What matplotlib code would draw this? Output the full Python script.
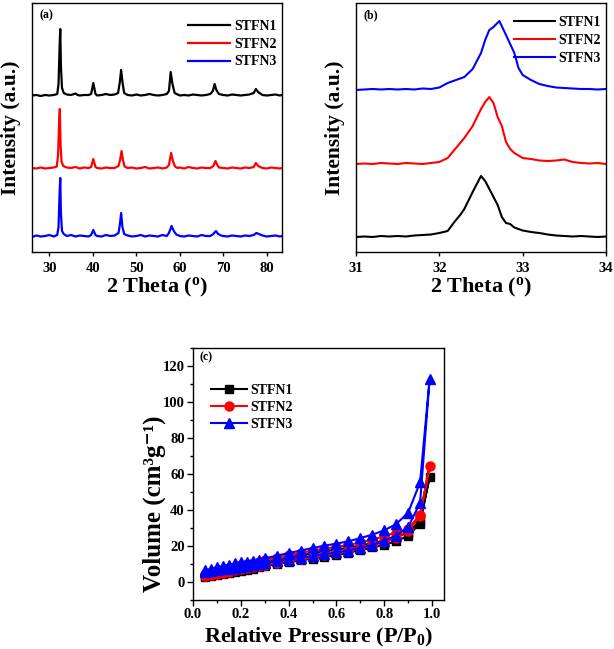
import matplotlib
matplotlib.use("Agg")
import matplotlib.pyplot as plt
from matplotlib.ticker import MultipleLocator

plt.rcParams['font.family'] = ['Liberation Serif', 'DejaVu Serif']
plt.rcParams['font.weight'] = 'bold'
plt.rcParams['mathtext.fontset'] = 'custom'
plt.rcParams['mathtext.rm'] = 'Liberation Serif:bold'
plt.rcParams['mathtext.bf'] = 'Liberation Serif:bold'
plt.rcParams['mathtext.it'] = 'Liberation Serif:bold'

labels = ['STFN1', 'STFN2', 'STFN3']
colors = ['black', 'red', 'blue']

# ---------------- (a) wide-range XRD (intensity above own baseline, a.u.) ----
xrd1_x = [26, 27, 28, 29, 30, 31, 31.8, 32.1, 32.35, 32.5, 32.65, 32.9, 33.3, 34, 35, 36, 36.5, 37, 38, 39,
          39.6, 40.1, 40.6, 41, 42, 43, 44, 45, 45.8, 46.2, 46.5, 46.8, 47.2, 48, 49, 50, 51, 52, 53, 54, 55,
          56, 57, 57.5, 57.9, 58.3, 58.8, 59.5, 60, 61, 62, 63, 64, 65, 66, 67, 67.6, 68.0, 68.4, 69, 70, 71,
          72, 73, 74, 75, 76, 77, 77.5, 78, 79, 80, 81, 82, 83, 83.5]
xrd1_y = [0.5, 1, 0, 1, 0.5, 1, 2, 12, 50, 67, 30, 8, 3, 1.5, 1, 2.5, 1, 0.5, 1, 1,
          2, 13, 2, 0.5, 1, 2, 1, 1.5, 3, 14, 26, 14, 3, 1, 0.5, 1.5, 0.5, 1, 2, 1, 0.5,
          1, 2, 5, 24, 12, 3, 1.5, 0.5, 1, 0.5, 1.5, 1, 0.5, 1, 2, 5, 12, 6, 2, 1, 0.5,
          1.5, 1, 0.5, 1, 1.5, 3, 7, 4, 1, 0.5, 1, 1.5, 0.5, 1]

xrd2_x = [26, 27, 28, 29, 30, 31, 31.7, 32.0, 32.25, 32.4, 32.55, 32.8, 33.2, 34, 35, 36, 37, 38, 39,
          39.6, 40.1, 40.6, 41, 42, 43, 44, 45, 45.9, 46.3, 46.6, 46.9, 47.3, 48, 49, 50, 51, 52, 53, 54, 55,
          56, 57, 57.5, 58.0, 58.4, 58.9, 59.5, 60, 61, 62, 63, 64, 65, 66, 67, 67.7, 68.2, 68.6, 69, 70, 71,
          72, 73, 74, 75, 76, 77, 77.5, 78, 79, 80, 81, 82, 83, 83.5]
xrd2_y = [1, 0.5, 1.5, 0.5, 1, 1.5, 2.5, 14, 48, 60, 26, 7, 3, 1.5, 1, 2, 0.5, 1.5, 1,
          2, 10, 2, 1, 0.5, 1.5, 1, 1, 3, 10, 18, 9, 2.5, 1, 1.5, 0.5, 1, 2, 0.5, 1, 1.5,
          0.5, 1.5, 4, 16, 8, 2.5, 1, 1.5, 0.5, 2, 1, 0.5, 1.5, 1, 1, 3, 8, 4, 1.5, 1, 0.5,
          1.5, 1, 0.5, 1.5, 1, 2, 6, 3, 1, 0.5, 1.5, 1, 0.5, 1]

xrd3_x = [26, 27, 28, 29, 30, 31, 31.8, 32.1, 32.35, 32.5, 32.65, 32.9, 33.3, 34, 35, 36, 37, 38, 39,
          39.6, 40.1, 40.6, 41, 42, 43, 44, 45, 45.9, 46.2, 46.5, 46.8, 47.2, 48, 49, 50, 51, 52, 53, 54, 55,
          56, 57, 57.5, 58.1, 58.6, 59.2, 60, 61, 62, 63, 64, 65, 66, 67, 67.7, 68.3, 68.8, 69.5, 70, 71,
          72, 73, 74, 75, 76, 77, 77.6, 78.2, 79, 80, 81, 82, 83, 83.5]
xrd3_y = [0, 1.5, 0.5, 1, 2, 0.5, 2, 10, 45, 59, 24, 6, 3, 1, 2, 0.5, 1.5, 1, 0.5,
          2, 7, 2, 1, 0.5, 2, 1, 1.5, 4, 12, 24, 10, 3, 1.5, 0.5, 1, 2, 0.5, 1.5, 1, 0.5,
          2, 1, 4, 11, 6, 2.5, 1, 0.5, 1.5, 1, 0.5, 2, 1, 1, 3, 6, 3, 1.5, 1, 0.5,
          1.5, 1, 0.5, 1.5, 1, 2, 4, 3, 1.5, 0.5, 1, 1.5, 0.5, 1]

# ---------------- (b) zoom on main peak --------------------------------------
zb1_x = [31.0, 31.1, 31.2, 31.3, 31.4, 31.5, 31.6, 31.7, 31.8, 31.9, 32.0, 32.1, 32.18, 32.25, 32.3, 32.4,
         32.5, 32.55, 32.6, 32.7, 32.75, 32.8, 32.85, 32.9, 33.0, 33.1, 33.2, 33.3, 33.4, 33.5, 33.6, 33.7,
         33.8, 33.9, 34.0]
zb1_y = [0, 0.5, 0, 1, 0.5, 1, 0.5, 1.5, 2, 2.5, 4, 6, 15, 22, 28, 45,
         61, 56, 48, 32, 20, 14, 13, 9.5, 6.5, 5, 4, 2.5, 1.5, 1, 0.5, 1,
         0.5, 0, 0.5]

zb2_x = [31.0, 31.1, 31.2, 31.3, 31.4, 31.5, 31.6, 31.7, 31.8, 31.9, 32.0, 32.1, 32.2, 32.3, 32.4, 32.5,
         32.55, 32.6, 32.65, 32.7, 32.75, 32.8, 32.85, 32.9, 33.0, 33.1, 33.2, 33.3, 33.4, 33.5, 33.6, 33.7,
         33.8, 33.9, 34.0]
zb2_y = [0, 0.5, 0, 1, 0.5, 0, 1, 0.5, 0, 1, 2, 6, 16, 26, 38, 55,
         62, 67, 61, 47, 38, 22, 15, 11, 6, 5, 3.5, 3, 3.5, 4.5, 2, 1,
         0.5, 1, 0]

zb3_x = [31.0, 31.1, 31.2, 31.3, 31.4, 31.5, 31.6, 31.7, 31.8, 31.9, 32.0, 32.1, 32.2, 32.3, 32.4, 32.5,
         32.55, 32.6, 32.65, 32.72, 32.8, 32.85, 32.9, 32.95, 33.0, 33.1, 33.2, 33.3, 33.4, 33.5, 33.6, 33.7,
         33.8, 33.9, 34.0]
zb3_y = [0, 0.5, 1, 0.5, 1, 0.5, 1, 0.5, 1.5, 1, 2.5, 7, 10, 13, 21, 37,
         50, 60, 63, 69, 55, 46, 37, 22, 15, 10, 6, 4, 2.5, 2, 1.5, 1,
         1, 0.5, 1]

# ---------------- (c) N2 isotherms -------------------------------------------
p_ads = [0.05, 0.075, 0.1, 0.125, 0.15, 0.175, 0.2, 0.225, 0.25, 0.275, 0.3, 0.35, 0.4, 0.45,
         0.5, 0.55, 0.6, 0.65, 0.7, 0.75, 0.8, 0.85, 0.9, 0.95, 0.99]
p_des = [0.95, 0.9, 0.85, 0.8, 0.75, 0.7, 0.65, 0.6, 0.55, 0.5, 0.45, 0.4, 0.35, 0.3,
         0.275, 0.25, 0.225, 0.2, 0.175, 0.15, 0.125, 0.1, 0.075, 0.05]

v1_ads = [2.8, 3.3, 3.9, 4.5, 5.1, 5.7, 6.3, 6.9, 7.5, 8.1, 8.7, 10.0, 11.0, 12.0,
          13.0, 14.0, 15.0, 16.3, 17.7, 19.2, 20.6, 22.7, 25.6, 32.5, 58.5]
v1_des = [34.0, 27.5, 25.0, 23.0, 21.5, 20.3, 19.0, 18.0, 17.0, 16.0, 14.8, 13.6, 12.3, 11.0,
          10.3, 9.6, 8.9, 8.2, 7.4, 6.6, 5.8, 5.0, 4.2, 3.5]

v2_ads = [3.5, 4.0, 4.6, 5.2, 5.8, 6.4, 7.0, 7.6, 8.2, 8.8, 9.5, 10.8, 12.0, 13.0,
          14.0, 15.0, 16.0, 17.5, 19.0, 20.5, 22.0, 24.5, 28.5, 36.5, 64.5]
v2_des = [37.5, 29.5, 27.5, 25.5, 23.5, 22.0, 20.5, 19.5, 18.5, 17.5, 16.0, 15.0, 13.5, 12.0,
          11.3, 10.6, 9.9, 9.2, 8.4, 7.6, 6.8, 6.0, 5.2, 4.5]

v3_ads = [5.5, 6.0, 6.5, 7.0, 7.5, 8.0, 8.5, 9.0, 9.5, 10.0, 10.5, 11.5, 12.5, 13.5,
          14.5, 15.5, 16.5, 17.5, 19.0, 20.5, 23.0, 25.8, 30.5, 44.0, 113.0]
v3_des = [55.4, 38.5, 32.2, 28.7, 26.3, 24.4, 22.6, 21.3, 20.2, 18.9, 17.4, 16.1, 14.6, 13.1,
          12.5, 11.8, 11.3, 11.0, 10.3, 9.6, 8.9, 8.3, 7.4, 6.5]

# ============================================================================
fig = plt.figure(figsize=(6.14, 6.49), dpi=100)
W, H = 614.0, 649.0

def box(l, t, r, b):
    return [l / W, 1 - b / H, (r - l) / W, (b - t) / H]

axA = fig.add_axes(box(32, 3, 282, 252))
axB = fig.add_axes(box(356, 3, 606, 252))
axC = fig.add_axes(box(193, 348, 444, 600))

tickfs = 10.5
labfs = 16
legfs = 10

# ---- (a)
offA = [156, 83, 15]
for xs, ys, off, c, lab in zip([xrd1_x, xrd2_x, xrd3_x], [xrd1_y, xrd2_y, xrd3_y], offA, colors, labels):
    axA.plot(xs, [v + off for v in ys], color=c, lw=1.6, label=lab)
axA.set_xlim(26, 83.5)
axA.set_ylim(0, 249)
axA.set_yticks([])
axA.xaxis.set_major_locator(MultipleLocator(10))
axA.tick_params(axis='x', direction='out', length=3, width=1, labelsize=tickfs, pad=4)
axA.set_xlabel('2 Theta ($^{\\rm o}$)', fontsize=labfs, fontweight='bold', labelpad=1)
axA.set_ylabel('Intensity (a.u.)', fontsize=15.5, fontweight='bold')
axA.yaxis.set_label_coords(-0.044, 0.5)
axA.text(0.03, 0.975, '(a)', transform=axA.transAxes, fontsize=8.5, fontweight='bold', va='top')
axA.legend(loc='upper right', frameon=False, fontsize=legfs, handlelength=3.0,
           labelspacing=0.35, borderaxespad=0.0, handletextpad=0.3,
           bbox_to_anchor=(1.0, 0.955))

# ---- (b)
offB = [15, 88, 162]
for xs, ys, off, c, lab in zip([zb1_x, zb2_x, zb3_x], [zb1_y, zb2_y, zb3_y], offB, colors, labels):
    axB.plot(xs, [v + off for v in ys], color=c, lw=1.5, label=lab)
axB.set_xlim(31, 34)
axB.set_ylim(0, 249)
axB.set_yticks([])
axB.xaxis.set_major_locator(MultipleLocator(1))
axB.tick_params(axis='x', direction='out', length=3, width=1, labelsize=tickfs, pad=4)
axB.set_xlabel('2 Theta ($^{\\rm o}$)', fontsize=labfs, fontweight='bold', labelpad=1)
axB.set_ylabel('Intensity (a.u.)', fontsize=15.5, fontweight='bold')
axB.yaxis.set_label_coords(-0.044, 0.5)
axB.text(0.03, 0.975, '(b)', transform=axB.transAxes, fontsize=8.5, fontweight='bold', va='top')
axB.legend(loc='upper right', frameon=False, fontsize=legfs, handlelength=3.0,
           labelspacing=0.35, borderaxespad=0.0, handletextpad=0.2,
           bbox_to_anchor=(1.0, 0.97))

# ---- (c)
markers = ['s', 'o', '^']
msz = [5.5, 6.5, 6.5]
for ya, yd, c, m, ms, lab in zip([v1_ads, v2_ads, v3_ads], [v1_des, v2_des, v3_des], colors, markers, msz, labels):
    axC.plot(p_ads + p_des, ya + yd, color=c, marker=m, ms=ms, lw=1.5, label=lab)
axC.set_xlim(0, 1.05)
axC.set_ylim(-10, 130)
axC.xaxis.set_major_locator(MultipleLocator(0.2))
axC.xaxis.set_minor_locator(MultipleLocator(0.1))
axC.yaxis.set_major_locator(MultipleLocator(20))
axC.yaxis.set_minor_locator(MultipleLocator(10))
axC.tick_params(which='major', direction='out', length=4, width=1, labelsize=tickfs, pad=2)
axC.tick_params(which='minor', direction='out', length=2.5, width=1)
axC.set_xticks([0.0, 0.2, 0.4, 0.6, 0.8, 1.0])
axC.set_xticklabels(['0.0', '0.2', '0.4', '0.6', '0.8', '1.0'])
axC.set_xlabel('Relative Pressure (P/P$_{0}$)', fontsize=labfs, fontweight='bold', labelpad=3)
axC.set_ylabel('Volume (cm³g⁻¹)', fontsize=18, fontweight='bold')
axC.yaxis.set_label_coords(-0.108, 0.38)
axC.text(0.025, 0.985, '(c)', transform=axC.transAxes, fontsize=8.5, fontweight='bold', va='top')
axC.legend(loc='upper left', frameon=False, fontsize=legfs, handlelength=2.6,
           labelspacing=0.3, borderaxespad=0.9, handletextpad=0.2, bbox_to_anchor=(0.0, 0.93))

for ax in (axA, axB, axC):
    for s in ax.spines.values():
        s.set_linewidth(1.0)
    for t in ax.get_xticklabels() + ax.get_yticklabels():
        t.set_fontweight('bold')

fig.savefig('out.png', dpi=100)
